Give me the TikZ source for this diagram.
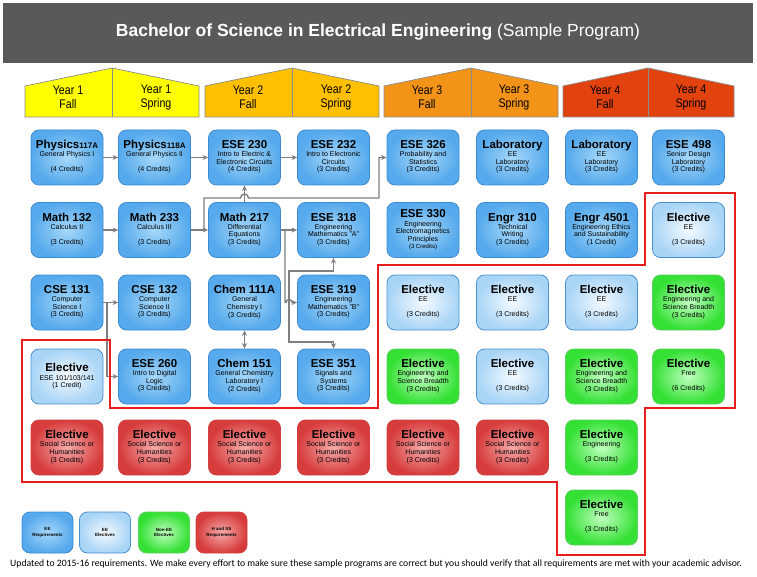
\documentclass[tikz,border=0pt]{standalone}
\usepackage{fontspec}
\setmainfont{Liberation Sans}
\newfontfamily\narrowfont{Liberation Sans}[FakeStretch=0.85]
\newfontfamily\footfont{Carlito}
\usetikzlibrary{arrows.meta}
\definecolor{hdr}{HTML}{595959}
\definecolor{yA}{HTML}{FFFF00}
\definecolor{yB}{HTML}{FFC000}
\definecolor{yC}{HTML}{F39318}
\definecolor{yD}{HTML}{E2430E}
\definecolor{tabline}{HTML}{8C8C8C}
\definecolor{reqin}{HTML}{A6D8FA}
\definecolor{reqout}{HTML}{55A9EC}
\definecolor{reqdraw}{HTML}{3C8AD0}
\definecolor{eelin}{HTML}{F4FAFF}
\definecolor{eelout}{HTML}{A8D4F6}
\definecolor{eeldraw}{HTML}{4A90D0}
\definecolor{neein}{HTML}{C0FFC0}
\definecolor{neeout}{HTML}{33E033}
\definecolor{needraw}{HTML}{60D060}
\definecolor{hssin}{HTML}{F6AAAA}
\definecolor{hssout}{HTML}{D73C3C}
\definecolor{hssdraw}{HTML}{D04040}
\definecolor{conncol}{HTML}{7F7F7F}
\definecolor{redline}{HTML}{E61E1E}
\newcommand\ttl[1]{\rule[-3pt]{0pt}{10.5pt}{\fontsize{11.5}{12}\selectfont\bfseries #1}}
\newcommand\sm[1]{{\fontsize{8}{8}\selectfont #1}}
\newcommand\sbl[2][10]{\rule[-2.5pt]{0pt}{\dimexpr#1pt-2.5pt\relax}{\fontsize{7}{8}\selectfont #2}}
\newcommand\C[4]{{\renewcommand\arraystretch{0}\begin{tabular}{@{}c@{}}\ttl{#1}\\\sbl{#2}\\\sbl{#3}\\\sbl{#4}\end{tabular}}}
\newcommand\CS[4]{{\renewcommand\arraystretch{0}\begin{tabular}{@{}c@{}}\ttl{#1}\\\sbl[9]{#2}\\\sbl[9]{#3}\\\sbl[9]{#4}\end{tabular}}}
\newcommand\CT[3]{{\renewcommand\arraystretch{0}\begin{tabular}{@{}c@{}}\ttl{#1}\\\sbl[11]{#2}\\\sbl[10]{#3}\end{tabular}}}
\newcommand\CF[5]{{\renewcommand\arraystretch{0}\begin{tabular}{@{}c@{}}\ttl{#1}\\\sbl[9.5]{#2}\\\sbl[9.5]{#3}\\\sbl[9.5]{#4}\\\rule[-2pt]{0pt}{6pt}{\fontsize{6}{7}\selectfont #5}\end{tabular}}}
\begin{document}
\begin{tikzpicture}[x=1pt,y=-1pt,
  crs/.style={rounded corners=8pt, minimum width=72pt, minimum height=55pt, inner sep=0pt, line width=0.8pt, text=black},
  req/.style={crs, draw=reqdraw, inner color=reqin, outer color=reqout},
  eel/.style={crs, draw=eeldraw, inner color=eelin, outer color=eelout},
  nee/.style={crs, draw=needraw, inner color=neein, outer color=neeout},
  hss/.style={crs, draw=hssdraw, inner color=hssin, outer color=hssout},
  leg/.style={minimum width=51pt, minimum height=41pt, align=center, font=\fontsize{4.5}{5.5}\selectfont\bfseries},
  tab/.style={draw=tabline, line width=0.7pt},
  tabtxt/.style={align=center, font=\narrowfont\fontsize{12.5}{14}\selectfont, inner sep=0pt},
  conn/.style={draw=conncol, line width=1.4pt, -{Stealth[length=5.5pt,width=5pt]}},
  conn2/.style={draw=conncol, line width=1.4pt, {Stealth[length=5.5pt,width=5pt]}-{Stealth[length=5.5pt,width=5pt]}},
  redb/.style={draw=redline, line width=2.6pt, line join=miter}
]
\useasboundingbox (0,0) rectangle (757,577);
\fill[white] (0,0) rectangle (757,577);
% header
\fill[hdr] (3,3) rectangle (753,63);
\node[text=white, font=\fontsize{17.5}{20}\selectfont, inner sep=0pt] (title) at (378,32) {\textbf{Bachelor of Science in Electrical Engineering} (Sample Program)};
% year tabs
\filldraw[tab, fill=yA] (25,117) -- (25,86) -- (112,68) -- (199,86) -- (199,117) -- cycle;
\draw[tab] (112,68) -- (112,117);
\filldraw[tab, fill=yB] (205,117) -- (205,86) -- (292,68) -- (379,86) -- (379,117) -- cycle;
\draw[tab] (292,68) -- (292,117);
\filldraw[tab, fill=yC] (384,117) -- (384,86) -- (471,68) -- (558,86) -- (558,117) -- cycle;
\draw[tab] (471,68) -- (471,117);
\filldraw[tab, fill=yD] (563,117) -- (563,86) -- (648,68) -- (734,86) -- (734,117) -- cycle;
\draw[tab] (648,68) -- (648,117);
\node[tabtxt] (t1f) at (68,97) {Year 1\\Fall};
\node[tabtxt] (t1s) at (156,97) {Year 1\\Spring};
\node[tabtxt] (t2f) at (248,97) {Year 2\\Fall};
\node[tabtxt] (t2s) at (336,97) {Year 2\\Spring};
\node[tabtxt] (t3f) at (427,97) {Year 3\\Fall};
\node[tabtxt] (t3s) at (514,97) {Year 3\\Spring};
\node[tabtxt] (t4f) at (605,97) {Year 4\\Fall};
\node[tabtxt] (t4s) at (691,97) {Year 4\\Spring};
% row 1
\node[req] (phy1) at (67,157.5) {\C{Physics\sm{117A}}{General Physics I}{}{(4 Credits)}};
\node[req] (phy2) at (154.5,157.5) {\C{Physics\sm{118A}}{General Physics II}{}{(4 Credits)}};
\node[req] (ese230) at (244.5,157.5) {\C{ESE 230}{Intro to Electric \&}{Electronic Circuits}{(4 Credits)}};
\node[req] (ese232) at (333.5,157.5) {\C{ESE 232}{Intro to Electronic}{Circuits}{(3 Credits)}};
\node[req] (ese326) at (423,157.5) {\C{ESE 326}{Probability and}{Statistics}{(3 Credits)}};
\node[req] (lab1) at (512.5,157.5) {\C{Laboratory}{EE}{Laboratory}{(3 Credits)}};
\node[req] (lab2) at (601.5,157.5) {\C{Laboratory}{EE}{Laboratory}{(3 Credits)}};
\node[req] (ese498) at (688.5,157.5) {\C{ESE 498}{Senior Design}{Laboratory}{(3 Credits)}};
% row 2
\node[req] (m132) at (67,230) {\C{Math 132}{Calculus II}{}{(3 Credits)}};
\node[req] (m233) at (154.5,230) {\C{Math 233}{Calculus III}{}{(3 Credits)}};
\node[req] (m217) at (244.5,230) {\C{Math 217}{Differential}{Equations}{(3 Credits)}};
\node[req] (ese318) at (333.5,230) {\C{ESE 318}{Engineering}{Mathematics "A"}{(3 Credits)}};
\node[req] (ese330) at (423,230) {\CF{ESE 330}{Engineering}{Electromagnetics}{Principles}{(3 Credits)}};
\node[req] (engr310) at (512.5,230) {\C{Engr 310}{Technical}{Writing}{(3 Credits)}};
\node[req] (engr4501) at (601.5,230) {\C{Engr 4501}{Engineering Ethics}{and Sustainability}{(1 Credit)}};
\node[eel] (el1) at (688.5,230) {\C{Elective}{EE}{}{(3 Credits)}};
% row 3
\node[req] (cse131) at (67,302.5) {\C{CSE 131}{Computer}{Science I}{(3 Credits)}};
\node[req] (cse132) at (154.5,302.5) {\C{CSE 132}{Computer}{Science II}{(3 Credits)}};
\node[req] (chem111) at (244.5,302.5) {\C{Chem 111A}{General}{Chemistry I}{(3 Credits)}};
\node[req] (ese319) at (333.5,302.5) {\C{ESE 319}{Engineering}{Mathematics "B"}{(3 Credits)}};
\node[eel] (el2) at (423,302.5) {\C{Elective}{EE}{}{(3 Credits)}};
\node[eel] (el3) at (512.5,302.5) {\C{Elective}{EE}{}{(3 Credits)}};
\node[eel] (el4) at (601.5,302.5) {\C{Elective}{EE}{}{(3 Credits)}};
\node[nee] (el5) at (688.5,302.5) {\CS{Elective}{Engineering and}{Science Breadth}{(3 Credits)}};
% row 4
\node[eel] (el6) at (67,376.5) {\CT{Elective}{ESE 101/103/141}{(1 Credit)}};
\node[req] (ese260) at (154.5,376.5) {\C{ESE 260}{Intro to Digital}{Logic}{(3 Credits)}};
\node[req] (chem151) at (244.5,376.5) {\C{Chem 151}{General Chemistry}{Laboratory I}{(2 Credits)}};
\node[req] (ese351) at (333.5,376.5) {\C{ESE 351}{Signals and}{Systems}{(3 Credits)}};
\node[nee] (el7) at (423,376.5) {\CS{Elective}{Engineering and}{Science Breadth}{(3 Credits)}};
\node[eel] (el8) at (512.5,376.5) {\C{Elective}{EE}{}{(3 Credits)}};
\node[nee] (el9) at (601.5,376.5) {\CS{Elective}{Engineering and}{Science Breadth}{(3 Credits)}};
\node[nee] (el10) at (688.5,376.5) {\C{Elective}{Free}{}{(6 Credits)}};
% row 5
\node[hss] (hss1) at (67,447.5) {\CS{Elective}{Social Science or}{Humanities}{(3 Credits)}};
\node[hss] (hss2) at (154.5,447.5) {\CS{Elective}{Social Science or}{Humanities}{(3 Credits)}};
\node[hss] (hss3) at (244.5,447.5) {\CS{Elective}{Social Science or}{Humanities}{(3 Credits)}};
\node[hss] (hss4) at (333.5,447.5) {\CS{Elective}{Social Science or}{Humanities}{(3 Credits)}};
\node[hss] (hss5) at (423,447.5) {\CS{Elective}{Social Science or}{Humanities}{(3 Credits)}};
\node[hss] (hss6) at (512.5,447.5) {\CS{Elective}{Social Science or}{Humanities}{(3 Credits)}};
\node[nee] (el11) at (601.5,447.5) {\C{Elective}{Engineering}{}{(3 Credits)}};
% row 6
\node[nee] (el12) at (601.5,517.5) {\C{Elective}{Free}{}{(3 Credits)}};
% connectors
\draw[conn] (phy1) -- (phy2);
\draw[conn] (phy2) -- (ese230);
\draw[conn] (ese230) -- (ese232);
\draw[conn] (m132) -- (m233);
\draw[conn] (m233) -- (m217);
\coordinate (ja) at (204,230);
\draw[conn] (ja) -- (204,198) -- (240.5,198) arc[start angle=180, end angle=360, radius=4] -- (379,198) |- (ese326.west);
\draw[conn] (m217) -- (ese230);
\draw[conn] (m217) -- (ese318);
\coordinate (jb) at (285,230);
\draw[conn] (jb) -- (285,302.5) -- (286,302.5) arc[start angle=180, end angle=360, radius=3] -- (ese319.west);
\draw[conn2] (ese318.south) |- (289,271) -- (289,342) -| (ese351.north);
\draw[conn] (cse131) -- (cse132);
\coordinate (jc) at (107,302.5);
\draw[conn] (jc) |- (ese260.west);
\draw[conn2] (chem111) -- (chem151);
% red boundary
\draw[redb] (22,340) -- (110,340) -- (110,408) -- (378,408) -- (378,265) -- (645,265) -- (645,193) -- (735,193) -- (735,408) -- (645,408) -- (645,555) -- (557,555) -- (557,482) -- (22,482) -- cycle;
% legend
\node[req, leg] (lg1) at (47.5,532.5) {EE\\Requirements};
\node[eel, leg] (lg2) at (105,532.5) {EE\\Electives};
\node[nee, leg] (lg3) at (164,532.5) {Non-EE\\Electives};
\node[hss, leg] (lg4) at (221.5,532.5) {H and SS\\Requirements};
% footer
\node[font=\footfont\fontsize{9.7}{11}\selectfont, inner sep=0pt] (foot) at (376,564) {Updated to 2015-16 requirements. We make every effort to make sure these sample programs are correct but you should verify that all requirements are met with your academic advisor.};
\end{tikzpicture}
\end{document}
